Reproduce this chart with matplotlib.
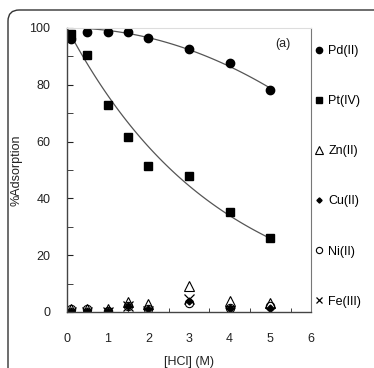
import numpy as np
import matplotlib
matplotlib.use("Agg")
import matplotlib.pyplot as plt
from matplotlib.patches import FancyBboxPatch

plt.rcParams['font.family'] = ['Liberation Sans', 'DejaVu Sans']

# [HCl] concentrations (M)
hcl = [0.1, 0.5, 1.0, 1.5, 2.0, 3.0, 4.0, 5.0]

# % adsorption for each metal ion
pd_ads = [96.0, 98.6, 98.5, 98.5, 96.5, 92.6, 87.6, 78.0]
pt_ads = [98.0, 90.4, 72.8, 61.5, 51.5, 48.0, 35.2, 26.0]
zn_ads = [1.0, 1.0, 1.0, 3.5, 2.8, 9.0, 4.0, 3.0]
cu_ads = [0.5, 0.5, 0.5, 2.0, 1.0, 4.0, 1.5, 1.5]
ni_ads = [1.0, 1.0, 0.5, 2.0, 1.0, 3.0, 1.5, 2.0]
fe_ads = [0.0, 0.0, 0.0, 2.0, 0.5, 4.5, 0.0, 0.0]

x_ticks = [0, 1, 2, 3, 4, 5, 6]
y_ticks = [0, 20, 40, 60, 80, 100]

fig = plt.figure(figsize=(3.74, 3.68), dpi=100)

# rounded frame around the figure panel
frame = FancyBboxPatch((8 / 374, -0.05), 1.2, 1.05 - 10 / 368, transform=fig.transFigure,
                       boxstyle="round,pad=0,rounding_size=0.03", fill=False,
                       edgecolor='#333333', linewidth=1.0)
fig.add_artist(frame)

ax = fig.add_axes([67 / 374, 56 / 368, 244 / 374, 284 / 368])

# trend curves fitted to the data (both start from 100 % at 0 M)
x = np.array(hcl)
xs = np.linspace(0, 5, 100)
c_pd = np.sum(x ** 2 * (100 - np.array(pd_ads))) / np.sum(x ** 4)
ax.plot(xs, 100 - c_pd * xs ** 2, color='#555555', lw=0.9)
k_pt = -np.sum(x * np.log(np.array(pt_ads) / 100)) / np.sum(x ** 2)
ax.plot(xs, 100 * np.exp(-k_pt * xs), color='#555555', lw=0.9)

h_pd, = ax.plot(hcl, pd_ads, 'o', color='black', ms=6, ls='none')
h_pt, = ax.plot(hcl, pt_ads, 's', color='black', ms=6.3, ls='none')
h_zn, = ax.plot(hcl, zn_ads, '^', mfc='none', mec='black', ms=7, mew=0.8, ls='none')
h_cu, = ax.plot(hcl, cu_ads, 'D', color='black', ms=3.5, ls='none')
h_ni, = ax.plot(hcl, ni_ads, 'o', mfc='none', mec='black', ms=6, mew=0.8, ls='none')
h_fe, = ax.plot(hcl, fe_ads, 'x', color='black', ms=6.5, mew=0.9, ls='none')

ax.set_xlim(0, 6)
ax.set_ylim(0, 100)
ax.set_xticks(x_ticks)
ax.set_yticks(y_ticks)
ax.set_xticks(np.arange(0.5, 6, 1.0), minor=True)
ax.set_yticks(np.arange(10, 100, 20), minor=True)
ax.tick_params(axis='both', which='both', direction='in', labelsize=9, colors='#222222')
ax.tick_params(axis='x', which='major', length=0, pad=15)
ax.tick_params(axis='x', which='minor', length=3)
ax.tick_params(axis='y', which='major', length=4, pad=12)
ax.tick_params(axis='y', which='minor', length=4)

for s in ['left', 'bottom']:
    ax.spines[s].set_color('#444444')
    ax.spines[s].set_linewidth(1.0)
ax.spines['right'].set_color('#777777')
ax.spines['top'].set_color('#dddddd')

ax.set_xlabel('[HCl] (M)', fontsize=9, color='#222222', labelpad=8)
ax.set_ylabel('%Adsorption', fontsize=9, color='#222222', labelpad=5)
ax.text(5.3, 94.5, '(a)', fontsize=9, color='#222222', ha='center', va='center')

labels = ['Pd(II)', 'Pt(IV)', 'Zn(II)', 'Cu(II)', 'Ni(II)', 'Fe(III)']
ax.legend([h_pd, h_pt, h_zn, h_cu, h_ni, h_fe], labels, loc='upper left',
          bbox_to_anchor=(1.02, 0.94), frameon=False, fontsize=9,
          handlelength=0.5, handletextpad=0.5, labelspacing=3.05,
          markerscale=0.75, borderaxespad=0, borderpad=0)

fig.savefig('out.png', dpi=100)
